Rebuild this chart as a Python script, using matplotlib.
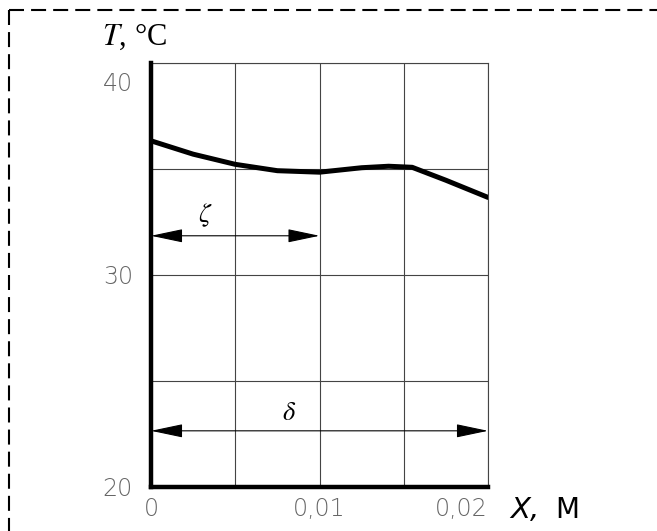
import matplotlib.pyplot as plt
import matplotlib.transforms as mtransforms
from matplotlib.lines import Line2D

plt.rcParams['mathtext.fontset'] = 'stix'

# Координата X, м и температура T, °C
x_vals = [0, 0.0025, 0.005, 0.0075, 0.01, 0.0125, 0.0141, 0.0155, 0.0175, 0.02]
t_vals = [36.33, 35.70, 35.22, 34.92, 34.85, 35.06, 35.13, 35.08, 34.47, 33.66]

x_ticks = [0, 0.01, 0.02]
x_tick_labels = ["0", "0,01", "0,02"]
y_ticks = [20, 30, 40]
y_tick_labels = ["20", "30", "40"]
x_grid = [0, 0.005, 0.01, 0.015, 0.02]
y_grid = [20, 25, 30, 35, 40]

# размерные стрелки: (начало, конец, уровень T, подпись, позиция подписи)
zeta_span = (0, 0.01, 31.85, r"$\zeta$", 0.0032, 32.8)
delta_span = (0, 0.02, 22.65, r"$\delta$", 0.0082, 23.5)

fig = plt.figure(figsize=(6.57, 5.31), dpi=100)
ax = fig.add_axes([151 / 657, 1 - 487 / 531, 337 / 657, 424 / 531])

ax.set_xlim(0, 0.02)
ax.set_ylim(20, 40)

# сетка
for xg in x_grid:
    ax.axvline(xg, color="#444444", lw=0.8, zorder=1)
for yg in y_grid:
    ax.axhline(yg, color="#444444", lw=0.8, zorder=1)

# кривая температуры
ax.plot(x_vals, t_vals, color="black", lw=3.6, solid_capstyle="round", zorder=3)

# размерные линии
for x0, x1, lev, lab, lx, ly in (zeta_span, delta_span):
    ax.annotate("", xy=(x1, lev), xytext=(x0, lev),
                arrowprops=dict(arrowstyle="<|-|>,head_length=2.0,head_width=0.42",
                                color="black", lw=0.8, shrinkA=0, shrinkB=0,
                                mutation_scale=10), zorder=2)
    ax.text(lx, ly, lab, fontsize=19, ha="center", va="center")

# оси
for s in ["top", "right"]:
    ax.spines[s].set_linewidth(0.8)
    ax.spines[s].set_color("#444444")
for s in ["left", "bottom"]:
    ax.spines[s].set_linewidth(3.2)
    ax.spines[s].set_color("black")
    ax.spines[s].set_zorder(4)

ax.set_xticks(x_ticks)
ax.set_xticklabels(x_tick_labels)
ax.set_yticks(y_ticks)
ax.set_yticklabels(y_tick_labels)
ax.tick_params(length=0, labelsize=17, labelcolor="#666666")
ax.tick_params(axis="x", pad=7)
ax.tick_params(axis="y", pad=13)
ax.get_xticklabels()[-1].set_ha("right")
lbl40 = ax.get_yticklabels()[-1]
lbl40.set_transform(lbl40.get_transform() +
                    mtransforms.ScaledTranslation(0, -19 / 100, fig.dpi_scale_trans))
for lbl in ax.get_xticklabels() + ax.get_yticklabels():
    lbl.set_fontweight("light")

# подписи осей
fig.text(102 / 657, 1 - 37 / 531, r"$T$, °C", fontsize=22,
         family="Liberation Serif", ha="left", va="center")
fig.text(510 / 657, 1 - 510 / 531, "X,", fontsize=21, style="italic",
         ha="left", va="center")
fig.text(555 / 657, 1 - 510 / 531, "M", fontsize=20,
         ha="left", va="center")

# пунктирная рамка
fig.add_artist(Line2D([9 / 657, 1.02], [1 - 10 / 531, 1 - 10 / 531],
                      transform=fig.transFigure, color="black", lw=1.5,
                      linestyle=(0, (7.2, 3.4))))
fig.add_artist(Line2D([9 / 657, 9 / 657], [1 - 10 / 531, -0.02],
                      transform=fig.transFigure, color="black", lw=1.5,
                      linestyle=(0, (7.2, 3.4))))

fig.savefig("out.png", dpi=100)
